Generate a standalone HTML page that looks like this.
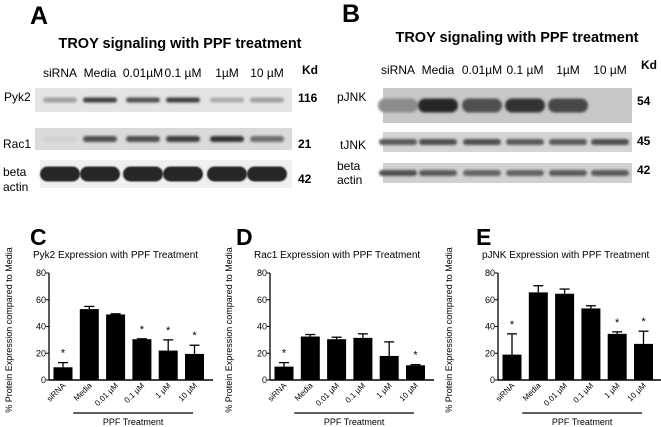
<!DOCTYPE html>
<html><head><meta charset="utf-8"><style>
body{margin:0;background:#fff;width:661px;height:427px;overflow:hidden;font-family:"Liberation Sans",sans-serif}
svg{display:block}
</style></head><body>
<svg id="fig" width="661" height="427" viewBox="0 0 661 427">
<defs>
<filter id="bl" x="-30%" y="-100%" width="160%" height="300%"><feGaussianBlur stdDeviation="1.4"/></filter>
<filter id="bl2" x="-30%" y="-100%" width="160%" height="300%"><feGaussianBlur stdDeviation="0.8"/></filter>
</defs>
<g id="blotA">
<text x="30" y="24" font-size="25" font-weight="bold">A</text>
<text x="180" y="48" font-size="14.5" font-weight="bold" text-anchor="middle">TROY signaling with PPF treatment</text>
<text x="302" y="74" font-size="12" font-weight="bold">Kd</text>
<text x="4" y="101" font-size="12">Pyk2</text>
<text x="3" y="148" font-size="12">Rac1</text>
<text x="3" y="176" font-size="12">beta</text>
<text x="3" y="191" font-size="12">actin</text>
<text x="298" y="102" font-size="12" font-weight="bold">116</text>
<text x="298" y="148" font-size="12" font-weight="bold">21</text>
<text x="298" y="183" font-size="12" font-weight="bold">42</text>
</g>
<g id="blotB">
<text x="342" y="22" font-size="25" font-weight="bold">B</text>
<text x="517" y="42" font-size="14.5" font-weight="bold" text-anchor="middle">TROY signaling with PPF treatment</text>
<text x="641" y="69" font-size="12" font-weight="bold">Kd</text>
<text x="337" y="101" font-size="12">pJNK</text>
<text x="340" y="149" font-size="12">tJNK</text>
<text x="337" y="170" font-size="12">beta</text>
<text x="337" y="184" font-size="12">actin</text>
<text x="637" y="105" font-size="12" font-weight="bold">54</text>
<text x="637" y="145" font-size="12" font-weight="bold">45</text>
<text x="637" y="174" font-size="12" font-weight="bold">42</text>
</g>
<text x="30" y="245" font-size="23" font-weight="bold">C</text>
<text x="236" y="245" font-size="23" font-weight="bold">D</text>
<text x="476" y="245" font-size="23" font-weight="bold">E</text>
</svg>
<script>
const NS="http://www.w3.org/2000/svg";
const fig=document.getElementById('fig');
function mk(tag,attrs,parent,txt){const e=document.createElementNS(NS,tag);for(const k in attrs)e.setAttribute(k,attrs[k]);if(txt!==undefined)e.textContent=txt;(parent||fig).appendChild(e);return e;}

const laneLabels=["siRNA","Media","0.01\u00b5M","0.1 \u00b5M","1\u00b5M","10 \u00b5M"];
const pyk2Int=[0.35,0.85,0.75,0.85,0.3,0.35];
const rac1Int=[0.1,0.75,0.75,0.85,0.9,0.6];
const actinAInt=[0.95,0.95,0.95,0.95,0.95,0.95];
const pjnkInt=[0.45,0.95,0.75,0.9,0.8,0.15];
const tjnkInt=[0.7,0.75,0.75,0.7,0.7,0.75];
const actinBInt=[0.75,0.7,0.65,0.65,0.7,0.7];

function blot(g,lanesX,rows,labelY){
  lanesX.forEach((x,i)=>{
    const t=mk('text',{x:x,y:labelY,'font-size':12,'text-anchor':'middle'},g,laneLabels[i]);
    
    
  });
  rows.forEach(r=>{
    const bg=mk('rect',{x:r.x0,y:r.y0,width:r.x1-r.x0,height:r.y1-r.y0,fill:r.bg},g);
    
    
    const cy=(r.y0+r.y1)/2;
    r.vals.forEach((v,i)=>{
      const c=Math.round(230-v*200);
      const b=mk('rect',{x:lanesX[i]-r.w/2,y:cy-r.h/2,width:r.w,height:r.h,rx:r.h/2,fill:`rgb(${c},${c},${c})`,filter:r.f||'url(#bl)'},g);
      
      
    });
  });
}
const gA=document.getElementById('blotA');
blot(gA,[60,100,143,183,227,267],[
 {name:'pyk2',x0:35,x1:292,y0:88,y1:112,bg:'#e4e4e4',vals:pyk2Int,w:34,h:5},
 {name:'rac1',x0:35,x1:292,y0:128,y1:150,bg:'#dadada',vals:rac1Int,w:34,h:6},
 {name:'beta-actin-a',x0:40,x1:292,y0:160,y1:188,bg:'#f0f0f0',vals:actinAInt,w:40,h:15,f:'url(#bl2)'}
],77);
const gB=document.getElementById('blotB');
blot(gB,[398,438,482,525,568,610],[
 {name:'pjnk',x0:383,x1:632,y0:88,y1:123,bg:'#c8c8c8',vals:pjnkInt,w:40,h:14},
 {name:'tjnk',x0:383,x1:632,y0:132,y1:152,bg:'#d4d4d4',vals:tjnkInt,w:38,h:6},
 {name:'beta-actin-b',x0:383,x1:632,y0:163,y1:183,bg:'#d0d0d0',vals:actinBInt,w:38,h:6}
],74);

// ---- bar chart data ----
const categories=["siRNA","Media","0.01 \u00b5M","0.1 \u00b5M","1 \u00b5M","10 \u00b5M"];
const yTicks=[0,20,40,60,80];
const pyk2Values=[9.5,53,49,30.5,22,19.5];
const pyk2Errors=[3.5,2,0.5,0.3,8,6.5];
const pyk2Stars=[1,0,0,1,1,1];
const rac1Values=[10,32.5,30.5,31.5,18,11];
const rac1Errors=[3,1.5,1.5,3,10.5,0.5];
const rac1Stars=[1,0,0,0,0,1];
const pjnkValues=[19,65.5,64.5,53.5,34.5,27];
const pjnkErrors=[15.5,5,3.5,2,1.5,9.5];
const pjnkStars=[1,0,0,0,1,1];

function chart(name,ax,title,values,errors,stars,ylabX){
  const g=mk('g',{});
  
  
  const y0=380,y80=273,axEnd=ax+164;
  const Y=v=>y0-(v/80)*(y0-y80);
  const X=i=>ax+14+i*26.3;
  const t=mk('text',{x:ax-16,y:258,'font-size':10},g,title);
  
  
  const yl=mk('text',{x:0,y:0,'font-size':9,'text-anchor':'middle',transform:`translate(${ylabX},330) rotate(-90)`},g,'% Protein Expression compared to Media');
  
  
  const ya=mk('line',{x1:ax,y1:y80,x2:ax,y2:y0,stroke:'#000','stroke-width':1.3},g);
  
  
  const xa=mk('line',{x1:ax,y1:y0,x2:axEnd,y2:y0,stroke:'#000','stroke-width':1.5},g);
  
  
  yTicks.forEach(v=>{
    const tk=mk('line',{x1:ax-3,y1:Y(v),x2:ax,y2:Y(v),stroke:'#000'},g);
    
    
    const tl=mk('text',{x:ax-3,y:Y(v)+3,'font-size':9,'text-anchor':'end'},g,String(v));
    
    
  });
  values.forEach((v,i)=>{
    const cx=X(i);
    const top=Y(v+errors[i]);
    const el=mk('line',{x1:cx,y1:Y(v),x2:cx,y2:top,stroke:'#000','stroke-width':1.3},g);
    
    
    const ec=mk('line',{x1:cx-5,y1:top,x2:cx+5,y2:top,stroke:'#000','stroke-width':1.3},g);
    
    
    const b=mk('rect',{x:cx-9.5,y:Y(v),width:19,height:y0-Y(v),fill:'#000'},g);
    
    
    if(stars[i]){
      const s=mk('text',{x:cx,y:top-6,'font-size':11,'text-anchor':'middle'},g,'*');
      
      
    }
    const xl=mk('text',{x:0,y:0,'font-size':8,'text-anchor':'end',transform:`translate(${cx+3},${y0+6}) rotate(-45)`},g,categories[i]);
    
    
  });
  const pl=mk('line',{x1:X(1)-16,y1:413,x2:axEnd-20,y2:413,stroke:'#000','stroke-width':1.3},g);
  
  
  const pt=mk('text',{x:(X(1)-16+axEnd-20)/2,y:425,'font-size':9,'text-anchor':'middle'},g,'PPF Treatment');
  
  
}
chart('chart-c-pyk2',49,'Pyk2 Expression with PPF Treatment',pyk2Values,pyk2Errors,pyk2Stars,12);
chart('chart-d-rac1',270,'Rac1 Expression with PPF Treatment',rac1Values,rac1Errors,rac1Stars,232);
chart('chart-e-pjnk',498,'pJNK Expression with PPF Treatment',pjnkValues,pjnkErrors,pjnkStars,452);
</script>
</body></html>
